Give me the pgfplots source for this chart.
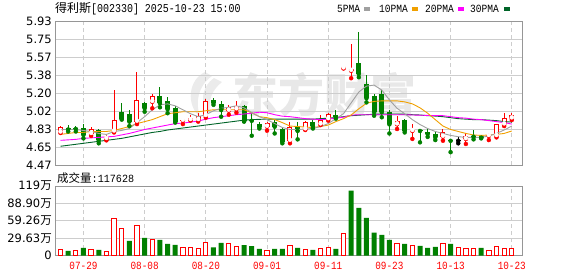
\documentclass[border=0pt]{standalone}
\usepackage{pgfplots}
\pgfplotsset{compat=1.18}
\usepackage{pgfplotstable}
\usepackage{graphicx}
\usepackage{fontspec}
\setmainfont{Liberation Sans}
\setmonofont{Liberation Mono}
\newfontfamily\cjk{Noto Sans CJK SC}
\newfontfamily\dvs{DejaVu Sans}
\newcommand\dt[2][0.85]{\scalebox{#1}[1]{\ttfamily #2}}
\definecolor{kred}{RGB}{255,0,0}
\definecolor{kgreen}{RGB}{0,128,0}
\definecolor{maA}{RGB}{160,160,160}
\definecolor{maB}{RGB}{240,160,0}
\definecolor{maC}{RGB}{255,0,255}
\definecolor{maD}{RGB}{0,100,40}
\definecolor{gridc}{RGB}{205,205,205}
\definecolor{framec}{RGB}{150,150,150}

\pgfplotstableread{
i o h l c
0 4.800 4.865 4.795 4.860
4 4.785 4.858 4.765 4.835
6 4.735 4.770 4.720 4.755
7 4.810 5.230 4.800 4.930
10 4.910 5.410 4.885 5.130
12 5.110 5.190 5.045 5.170
16 4.920 4.940 4.885 4.930
17 4.926 4.980 4.920 4.943
18 4.926 5.000 4.910 4.970
19 4.967 5.140 4.950 5.118
22 5.021 5.080 4.980 5.055
23 5.035 5.120 5.000 5.070
27 4.858 4.905 4.818 4.898
30 4.716 4.910 4.690 4.858
32 4.832 4.915 4.825 4.908
34 4.882 4.980 4.875 4.930
35 4.935 5.000 4.920 4.983
37 5.450 5.450 5.450 5.450
38 5.425 5.700 5.350 5.445
44 4.882 4.970 4.835 4.916
46 4.815 4.890 4.735 4.825
50 4.757 4.832 4.716 4.808
53 4.733 4.790 4.683 4.764
56 4.764 4.797 4.723 4.774
57 4.764 4.890 4.750 4.882
58 4.882 4.994 4.865 4.943
59 4.943 5.000 4.926 4.977
}\redC

\pgfplotstableread{
i o h l c
1 4.850 4.875 4.810 4.830
2 4.840 4.870 4.810 4.835
3 4.850 4.886 4.740 4.775
5 4.825 4.835 4.690 4.720
8 5.010 5.100 4.930 4.940
9 4.990 5.030 4.865 4.910
11 5.095 5.110 5.010 5.045
13 5.170 5.265 5.055 5.095
14 5.120 5.155 4.995 5.035
15 5.045 5.070 4.900 4.910
20 5.130 5.150 5.080 5.100
21 5.088 5.120 4.960 5.027
24 5.070 5.080 4.910 4.915
25 4.925 4.995 4.767 4.918
26 4.884 4.910 4.840 4.856
28 4.903 4.930 4.790 4.858
29 4.840 4.858 4.690 4.706
31 4.865 4.910 4.730 4.815
33 4.908 4.930 4.840 4.862
36 4.978 5.030 4.940 4.954
39 5.507 5.815 5.360 5.393
40 5.291 5.380 5.105 5.146
41 5.170 5.187 4.970 5.004
42 5.190 5.230 4.954 5.004
43 5.004 5.030 4.790 4.882
45 4.926 4.935 4.800 4.818
47 4.825 4.825 4.700 4.815
48 4.808 4.840 4.755 4.784
49 4.784 4.810 4.723 4.750
51 4.725 4.725 4.600 4.715
54 4.764 4.825 4.730 4.757
55 4.767 4.775 4.740 4.747
}\greenC

\pgfplotstableread{
i o h l c
52 4.720 4.750 4.690 4.720
}\blackC

\pgfplotstableread{
i m5 m10 m20 m30
0 4.83 4.78 4.72 4.66
1 4.83 4.79 4.725 4.67
2 4.83 4.80 4.73 4.68
3 4.82 4.80 4.74 4.69
4 4.81 4.81 4.745 4.70
5 4.79 4.81 4.75 4.71
6 4.78 4.81 4.755 4.72
7 4.81 4.82 4.76 4.73
8 4.82 4.84 4.775 4.74
9 4.84 4.86 4.79 4.755
10 4.90 4.89 4.81 4.77
11 4.96 4.91 4.83 4.785
12 5.03 4.93 4.845 4.80
13 5.08 4.96 4.86 4.81
14 5.09 4.99 4.875 4.825
15 5.07 5.00 4.89 4.835
16 5.03 5.01 4.895 4.845
17 4.99 5.01 4.905 4.855
18 4.96 5.01 4.915 4.865
19 4.98 5.02 4.935 4.875
20 5.02 5.03 4.95 4.885
21 5.045 5.03 4.96 4.895
22 5.055 5.03 4.97 4.905
23 5.07 5.03 4.98 4.915
24 5.05 5.03 4.987 4.925
25 5.00 5.00 4.995 4.93
26 4.96 4.96 5.005 4.933
27 4.93 4.95 5.00 4.935
28 4.89 4.93 4.98 4.935
29 4.85 4.90 4.965 4.935
30 4.83 4.865 4.96 4.935
31 4.83 4.86 4.95 4.935
32 4.835 4.855 4.94 4.935
33 4.84 4.85 4.935 4.935
34 4.86 4.86 4.93 4.94
35 4.89 4.875 4.935 4.945
36 4.94 4.91 4.945 4.95
37 4.99 4.94 4.955 4.96
38 5.10 4.977 4.975 4.97
39 5.21 5.04 4.98 4.975
40 5.27 5.096 4.98 4.98
41 5.28 5.115 4.98 4.985
42 5.23 5.12 4.98 4.987
43 5.13 5.12 4.98 4.987
44 5.045 5.12 4.98 4.987
45 4.99 5.11 4.98 4.985
46 4.93 5.09 4.977 4.98
47 4.88 5.05 4.975 4.977
48 4.84 4.995 4.973 4.97
49 4.81 4.93 4.97 4.966
50 4.79 4.865 4.97 4.96
51 4.77 4.83 4.96 4.95
52 4.757 4.81 4.95 4.94
53 4.75 4.79 4.945 4.935
54 4.75 4.774 4.935 4.93
55 4.75 4.77 4.93 4.93
56 4.764 4.774 4.92 4.925
57 4.79 4.78 4.91 4.92
58 4.825 4.79 4.90 4.91
59 4.865 4.815 4.885 4.905
}\maT

\pgfplotstableread{
i v
0 10.6
2 8.9
4 10.6
6 7.2
7 63.7
8 46.6
10 50.5
12 26.5
16 14.0
17 14.0
18 12.3
19 22.6
22 20.9
23 15.8
27 8.9
30 17.5
32 10.6
34 12.3
35 12.8
37 38.0
44 19.7
46 17.5
50 19.7
52 14.0
53 12.3
54 12.3
56 8.9
57 15.8
58 12.3
59 11.76
}\volR

\pgfplotstableread{
i v
1 7.7
3 12.8
5 9.4
9 24.8
11 30.0
13 26.5
14 19.7
15 18.0
20 14.0
21 21.4
24 17.5
25 15.8
26 11.1
28 11.1
29 11.1
31 12.8
33 9.4
36 11.1
38 110.5
39 81.4
40 64.2
41 39.1
42 35.1
43 26.5
45 19.7
47 16.3
48 12.8
49 14.6
51 19.7
55 12.8
}\volG

\pgfplotsset{
  wick/.style={color=#1, only marks, mark=none, forget plot, error bars/.cd, y dir=plus, y explicit, error mark=none, error bar style={solid, line width=1pt}},
  body/.style={color=#1, only marks, mark=none, forget plot, error bars/.cd, y dir=plus, y explicit, error mark=none, error bar style={solid, line width=5pt}},
  inner/.style={color=white, only marks, mark=none, forget plot, error bars/.cd, y dir=plus, y explicit, error mark=none, error bar style={solid, line width=3pt}},
  panel/.style={
    scale only axis, width=467.5pt,
    xmin=-0.72, xmax=60.4,
    axis line style={draw=framec, line width=0.8pt},
    xtick={3,11,19,27,35,43,51,59},
    xmajorgrids, major x grid style={gridc, dash pattern=on 4pt off 3pt, line width=0.8pt},
    ymajorgrids, major y grid style={gridc, line width=0.8pt},
    major tick length=0pt, tick style={draw=none},
    yticklabel style={font=\dvs\fontsize{11.5}{11.5}\selectfont, anchor=east, inner sep=0pt, xshift=-3pt},
  },
}

\begin{document}
\begin{tikzpicture}
\path[use as bounding box] (0,0) rectangle (578pt,-276pt);
% watermark
\node[text=black!9, font=\cjk\bfseries\fontsize{46}{46}\selectfont, inner sep=0pt] at (324pt,-95pt) {东方财富};
\fill[black!8] (205pt,-72pt) .. controls (188pt,-80pt) and (186pt,-105pt) .. (200pt,-117pt) .. controls (195pt,-102pt) and (198pt,-86pt) .. (212pt,-76pt) -- cycle;
\fill[black!8] (214pt,-78pt) .. controls (200pt,-88pt) and (200pt,-106pt) .. (210pt,-114pt) .. controls (208pt,-100pt) and (212pt,-90pt) .. (222pt,-82pt) -- cycle;

\begin{axis}[panel,
  at={(55pt,-21pt)}, anchor=north west, height=144pt,
  ymin=4.47, ymax=5.93,
  xticklabels={},
  ytick={4.47,4.6525,4.835,5.0175,5.2,5.3825,5.565,5.7475,5.93},
  yticklabels={4.47,4.65,4.83,5.02,5.20,5.38,5.57,5.75,5.93},
]
\addplot[wick=kred] table[x=i, y=l, y error plus expr=\thisrow{h}-\thisrow{l}] {\redC};
\addplot[wick=kgreen] table[x=i, y=l, y error plus expr=\thisrow{h}-\thisrow{l}] {\greenC};
\addplot[wick=black] table[x=i, y=l, y error plus expr=\thisrow{h}-\thisrow{l}] {\blackC};
\addplot[body=kred] table[x=i, y=o, y error plus expr={max(\thisrow{c}-\thisrow{o},0.0101)}] {\redC};
\addplot[inner] table[x=i, y expr=\thisrow{o}+0.0101, y error plus expr={max(\thisrow{c}-\thisrow{o}-0.0203,0)}] {\redC};
\addplot[body=kgreen] table[x=i, y=c, y error plus expr={max(\thisrow{o}-\thisrow{c},0.0101)}] {\greenC};
\addplot[body=black] table[x=i, y expr=\thisrow{c}-0.005, y error plus expr=0.0101] {\blackC};
\addplot[maD, line width=0.9pt] table[x=i, y=m30] {\maT};
\addplot[maC, line width=0.9pt] table[x=i, y=m20] {\maT};
\addplot[maB, line width=0.9pt] table[x=i, y=m10] {\maT};
\addplot[maA, line width=0.9pt] table[x=i, y=m5] {\maT};
\end{axis}

\begin{axis}[panel,
  at={(55pt,-186pt)}, anchor=north west, height=69.5pt,
  ymin=0, ymax=118.52,
  ytick={0,29.63,59.26,88.90,118.52},
  yticklabels={0,{29.63{\cjk 万}},{59.26{\cjk 万}},{88.90{\cjk 万}},{119{\cjk 万}}},
  xticklabels={{\dt{07-29}},{\dt{08-08}},{\dt{08-20}},{\dt{09-01}},{\dt{09-11}},{\dt{09-23}},{\dt{10-13}},{\dt{10-23}}},
  xticklabel style={font=\fontsize{11}{11}\selectfont, text=kred, anchor=north, inner sep=0pt, yshift=-6pt},
]
\addplot[ybar, bar width=4.3pt, bar shift=0pt, color=kred, draw=kred, fill=white, line width=1pt] table[x=i, y=v] {\volR};
\addplot[ybar, bar width=5pt, bar shift=0pt, color=kgreen, fill=kgreen, draw=none] table[x=i, y=v] {\volG};
\end{axis}

% header and legend
\node[anchor=west, inner sep=0pt] at (55pt,-9pt) {\fontsize{12}{12}\selectfont{\cjk 得利斯}\dt[0.83]{[002330] 2025-10-23 15:00}};
\node[anchor=west, inner sep=0pt] at (337pt,-9pt) {\fontsize{11}{11}\selectfont\dt[0.87]{5PMA}};
\fill[maA] (364pt,-7pt) rectangle (370pt,-11pt);
\node[anchor=west, inner sep=0pt] at (379pt,-9pt) {\fontsize{11}{11}\selectfont\dt[0.87]{10PMA}};
\fill[maB] (412pt,-7pt) rectangle (418pt,-11pt);
\node[anchor=west, inner sep=0pt] at (425pt,-9pt) {\fontsize{11}{11}\selectfont\dt[0.87]{20PMA}};
\fill[maC] (458pt,-7pt) rectangle (464pt,-11pt);
\node[anchor=west, inner sep=0pt] at (470pt,-9pt) {\fontsize{11}{11}\selectfont\dt[0.87]{30PMA}};
\fill[maD] (504pt,-7pt) rectangle (510pt,-11pt);
\node[anchor=west, inner sep=0pt] at (57pt,-178pt) {{\cjk\fontsize{11.5}{11.5}\selectfont 成交量}\fontsize{11}{11}\selectfont\dt[0.92]{:117628}};
\end{tikzpicture}
\end{document}
